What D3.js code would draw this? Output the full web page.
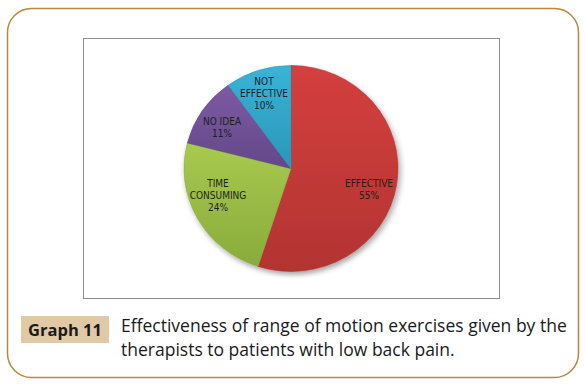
<!DOCTYPE html>
<html>
<head>
<meta charset="utf-8">
<script src="https://cdn.jsdelivr.net/npm/d3@7"></script>
<style>
  body { margin: 0; background: #fff; }
  svg { display: block; }
</style>
</head>
<body>
<div id="chart"></div>
<script>
// data
var categories = ["EFFECTIVE", "TIME CONSUMING", "NO IDEA", "NOT EFFECTIVE"];
var values = [55, 24, 11, 10];
var labelLines = [["EFFECTIVE"], ["TIME", "CONSUMING"], ["NO IDEA"], ["NOT", "EFFECTIVE"]];
var colors = ["#d43f3d", "#a8ca4e", "#7d5aa5", "#38b4d8"];
var darkColors = ["#b23432", "#89ab3c", "#634887", "#2a96b7"];
var captionTag = "Graph 11";
var captionLines = ["Effectiveness of range of motion exercises given by the",
                    "therapists to patients with low back pain."];

var width = 585, height = 385;

var svg = d3.select("#chart").append("svg")
    .attr("width", width)
    .attr("height", height);

var defs = svg.append("defs");

// soft shadow under the pie
var shadow = defs.append("filter").attr("id", "shadow")
    .attr("x", "-20%").attr("y", "-20%").attr("width", "140%").attr("height", "140%");
shadow.append("feGaussianBlur").attr("in", "SourceAlpha").attr("stdDeviation", 3);
shadow.append("feOffset").attr("dx", 2).attr("dy", 3).attr("result", "off");
shadow.append("feComponentTransfer").append("feFuncA").attr("type", "linear").attr("slope", 0.35);
var merge = shadow.append("feMerge");
merge.append("feMergeNode");
merge.append("feMergeNode").attr("in", "SourceGraphic");

// one gradient per slice, lighter at the top
colors.forEach(function(c, i) {
    var g = defs.append("linearGradient").attr("id", "grad" + i)
        .attr("x1", 0).attr("y1", 0).attr("x2", 0).attr("y2", 1);
    g.append("stop").attr("offset", "0%").attr("stop-color", c);
    g.append("stop").attr("offset", "100%").attr("stop-color", darkColors[i]);
});

// outer rounded box
svg.append("rect")
    .attr("x", 7.5).attr("y", 8.5)
    .attr("width", 571).attr("height", 369)
    .attr("rx", 24).attr("ry", 24)
    .attr("fill", "#fff")
    .attr("stroke", "#b8883e")
    .attr("stroke-width", 1.5);

// chart frame
svg.append("rect")
    .attr("x", 83.5).attr("y", 38.5)
    .attr("width", 416).attr("height", 260)
    .attr("fill", "#fff")
    .attr("stroke", "#8c8c8c")
    .attr("stroke-width", 1);

// pie
var cx = 291, cy = 168.5, rx = 107, ry = 103;
var radius = rx;

var pie = d3.pie().sort(null).value(function(d) { return d; });
var arcs = pie(values);

var arc = d3.arc().innerRadius(0).outerRadius(radius);

var g = svg.append("g")
    .attr("transform", "translate(" + cx + "," + cy + ") scale(1," + (ry / rx) + ")")
    .attr("filter", "url(#shadow)");

g.selectAll("path.slice")
    .data(arcs)
    .enter()
    .append("path")
    .attr("class", "slice")
    .attr("d", arc)
    .attr("fill", function(d, i) { return "url(#grad" + i + ")"; })
    .attr("stroke", function(d, i) { return darkColors[i]; })
    .attr("stroke-width", 0.6);

// labels
var labelPos = [[369, 183], [218, 183], [222, 121], [264, 81]];
var lab = svg.append("g")
    .attr("font-family", "'Liberation Sans Narrow', 'DejaVu Sans Condensed', Arial, sans-serif")
    .attr("font-size", 10)
    .attr("fill", "#1e1e1e")
    .attr("text-anchor", "middle");

arcs.forEach(function(d, i) {
    var lines = labelLines[i].concat([values[i] + "%"]);
    var t = lab.append("text")
        .attr("x", labelPos[i][0])
        .attr("y", labelPos[i][1] + 3.5);
    lines.forEach(function(l, j) {
        t.append("tspan")
            .attr("x", labelPos[i][0])
            .attr("dy", j == 0 ? 0 : 12)
            .text(l);
    });
});

// caption
svg.append("rect")
    .attr("x", 21).attr("y", 316)
    .attr("width", 88).attr("height", 27)
    .attr("fill", "#e2c9a6");

svg.append("text")
    .attr("x", 65).attr("y", 336)
    .attr("text-anchor", "middle")
    .attr("font-family", "'Open Sans', sans-serif")
    .attr("font-weight", "bold")
    .attr("font-size", 16.5)
    .attr("fill", "#1a1a1a")
    .text(captionTag);

var cap = svg.append("g")
    .attr("font-family", "'Open Sans', sans-serif")
    .attr("font-size", 17.5)
    .attr("fill", "#1a1a1a");

captionLines.forEach(function(l, i) {
    cap.append("text")
        .attr("x", 121)
        .attr("y", 332 + i * 24)
        .text(l);
});
</script>
</body>
</html>
